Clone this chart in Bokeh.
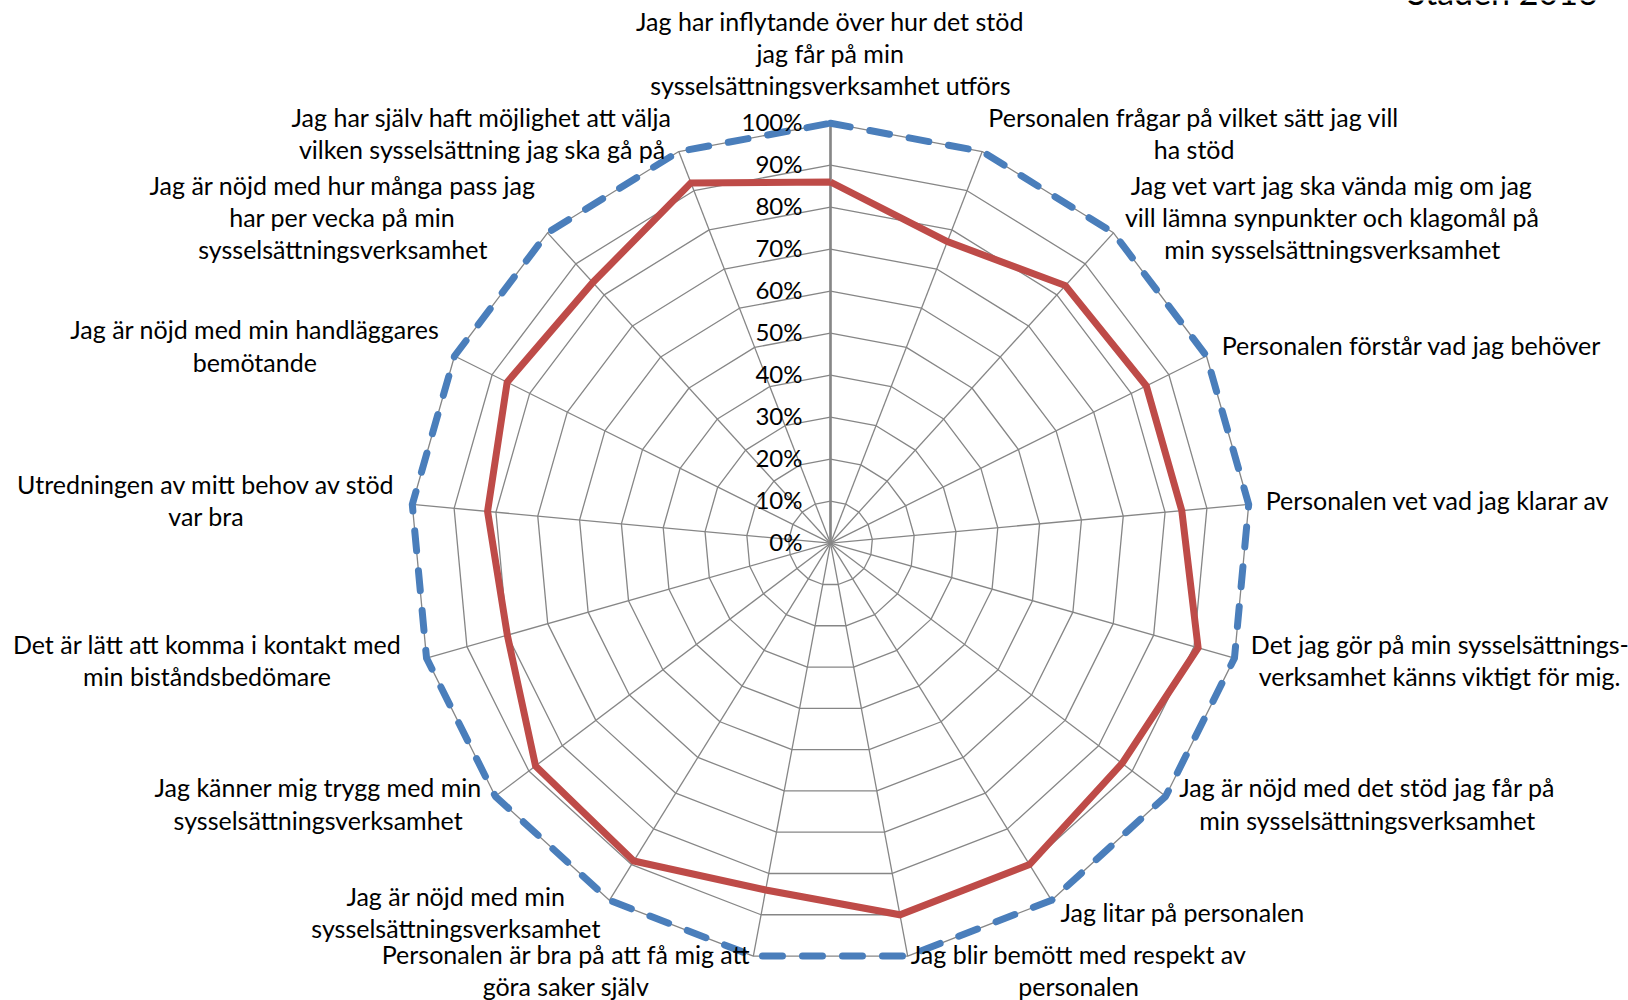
import numpy as np
from bokeh.plotting import figure
from bokeh.models import Range1d, ColumnDataSource
from bokeh.core.properties import value
from bokeh.embed import file_html
from bokeh.resources import INLINE

title_text = "Staden 2016"

categories = [
    "Jag har inflytande över hur det stöd\njag får på min\nsysselsättningsverksamhet utförs",
    "Personalen frågar på vilket sätt jag vill\nha stöd",
    "Jag vet vart jag ska vända mig om jag\nvill lämna synpunkter och klagomål på\nmin sysselsättningsverksamhet",
    "Personalen förstår vad jag behöver",
    "Personalen vet vad jag klarar av",
    "Det jag gör på min sysselsättnings-\nverksamhet känns viktigt för mig.",
    "Jag är nöjd med det stöd jag får på\nmin sysselsättningsverksamhet",
    "Jag litar på personalen",
    "Jag blir bemött med respekt av\npersonalen",
    "Personalen är bra på att få mig att\ngöra saker själv",
    "Jag är nöjd med min\nsysselsättningsverksamhet",
    "Jag känner mig trygg med min\nsysselsättningsverksamhet",
    "Det är lätt att komma i kontakt med\nmin biståndsbedömare",
    "Utredningen av mitt behov av stöd\nvar bra",
    "Jag är nöjd med min handläggares\nbemötande",
    "Jag är nöjd med hur många pass jag\nhar per vecka på min\nsysselsättningsverksamhet",
    "Jag har själv haft möjlighet att välja\nvilken sysselsättning jag ska gå på",
]

series_result = [86, 77, 83, 84, 84, 91, 87, 90, 90, 84, 89, 88, 80, 82, 86, 84, 92]
series_target = [100, 100, 100, 100, 100, 100, 100, 100, 100, 100, 100, 100, 100, 100, 100, 100, 100]

tick_values = [0, 10, 20, 30, 40, 50, 60, 70, 80, 90, 100]
tick_labels = ["0%", "10%", "20%", "30%", "40%", "50%", "60%", "70%", "80%", "90%", "100%"]

# ---- geometry (pixels per 100 %) ----
PX = 420.0
CX, CY = 830.0, 542.7
W, H = 1628, 1000
xs0 = -CX / PX
xs1 = xs0 + W / PX
ys1 = CY / PX
ys0 = ys1 - H / PX

n = len(categories)
ang = np.deg2rad(90 - np.arange(n) * 360.0 / n)
cosA, sinA = np.cos(ang), np.sin(ang)

p = figure(width=W, height=H, x_range=Range1d(xs0, xs1), y_range=Range1d(ys0, ys1),
           x_axis_type=None, y_axis_type=None, toolbar_location=None,
           output_backend="svg", min_border=0)
p.outline_line_color = None
p.background_fill_color = "white"
p.border_fill_color = "white"

GRID = "#868686"
FONT = value("Lato")

# rings
ring_xs, ring_ys = [], []
for t in tick_values[1:]:
    f = t / 100.0
    ring_xs.append(list(np.append(cosA, cosA[0]) * f))
    ring_ys.append(list(np.append(sinA, sinA[0]) * f))
p.multi_line(ring_xs, ring_ys, line_color=GRID, line_width=1.3)

# spokes
top = tick_values[-1] / 100.0
p.segment(x0=np.zeros(n), y0=np.zeros(n), x1=cosA * top, y1=sinA * top,
          line_color=GRID, line_width=1.3)
# value axis
p.segment(x0=[0], y0=[0], x1=[cosA[0] * top], y1=[sinA[0] * top],
          line_color=GRID, line_width=2.6)

# series
def closed(vals):
    r = np.array(vals, dtype=float) / 100.0
    x = r * cosA
    y = r * sinA
    return np.append(x, x[0]), np.append(y, y[0])

bx, by = closed(series_target)
p.line(bx, by, line_color="#4A7EBB", line_width=7, line_dash="20 20",
       line_cap="round", line_join="round")
rx, ry = closed(series_result)
p.line(rx, ry, line_color="#BE4B48", line_width=7, line_join="miter")

# tick labels
p.text(x=[-28 / PX] * len(tick_values), y=[t / 100.0 + 1.5 / PX for t in tick_values],
       text=tick_labels, text_align="right", text_baseline="middle", text_font=FONT,
       text_font_size="24px", text_color="black")

# category labels
off = 17 / PX
lift = 3 / PX
lab_x, lab_y, lab_t, lab_a = [], [], [], []
for i, c in enumerate(categories):
    if i == 0:
        lab_x.append(0.0)
        lab_y.append(top + 70 / PX)
        lab_a.append("center")
    else:
        lx = cosA[i] * (top + off)
        if cosA[i] < -0.95 and sinA[i] < 0:   # label pushed toward the left edge
            lx -= 9 / PX
        lab_x.append(lx)
        lab_y.append(sinA[i] * (top + off) + lift)
        lab_a.append("center_left" if cosA[i] > 0 else "center_right")
    lab_t.append(c)

for a in ["center", "center_left", "center_right"]:
    idx = [k for k in range(n) if lab_a[k] == a]
    src = ColumnDataSource(dict(x=[lab_x[k] for k in idx], y=[lab_y[k] for k in idx],
                                t=[lab_t[k] for k in idx]))
    p.text(x="x", y="y", text="t", source=src, anchor=a, text_align="center",
           text_font=FONT, text_font_size="25px", text_line_height=1.073,
           text_color="black")

# title (mostly outside the visible page, as in the reference)
p.text(x=[(1502 - CX) / PX], y=[(CY + 9.3) / PX], text=[title_text], text_align="center",
       text_baseline="alphabetic", text_font=FONT, text_font_size="34px", text_color="black")

open("out.html", "w").write(file_html(p, INLINE))
